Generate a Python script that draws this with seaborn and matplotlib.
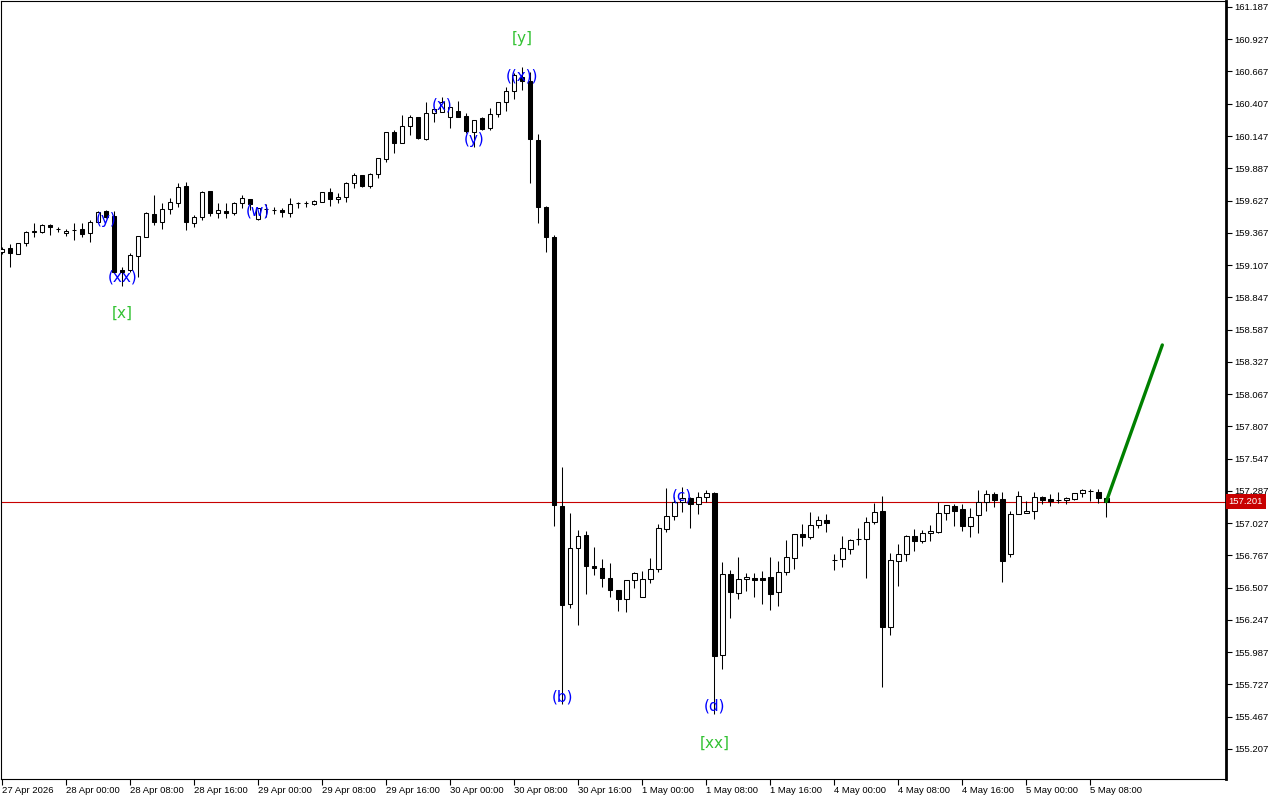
import numpy as np
import pandas as pd
import seaborn as sns
import matplotlib.pyplot as plt

sns.set_theme(style="ticks")
plt.rcParams["font.family"] = ["Liberation Sans", "DejaVu Sans"]

# hourly OHLC, 27 Apr 16:00 .. 5 May 10:00
opens = [
    159.213, 159.242, 159.199, 159.283, 159.374, 159.371, 159.427, 159.398, 159.363, 159.391,
    159.395, 159.366, 159.456, 159.543, 159.502, 159.067, 159.067, 159.183, 159.336, 159.519,
    159.456, 159.556, 159.610, 159.744, 159.448, 159.492, 159.704, 159.524, 159.543, 159.524,
    159.605, 159.640, 159.476, 159.562, 159.550, 159.551, 159.529, 159.604, 159.606, 159.597,
    159.618, 159.693, 159.637, 159.653, 159.766, 159.833, 159.744, 159.839, 159.962, 160.177,
    160.093, 160.228, 160.298, 160.123, 160.330, 160.343, 160.298, 160.351, 160.308, 160.182,
    160.290, 160.209, 160.322, 160.419, 160.512, 160.625, 160.593, 160.118, 159.571, 159.334,
    157.165, 156.379, 156.826, 156.931, 156.681, 156.665, 156.585, 156.488, 156.416, 156.569,
    156.429, 156.577, 156.655, 156.977, 157.084, 157.197, 157.227, 157.179, 157.238, 157.267,
    155.962, 156.615, 156.461, 156.574, 156.582, 156.582, 156.590, 156.474, 156.631, 156.748,
    156.939, 156.918, 157.009, 157.050, 156.728, 156.736, 156.821, 156.896, 156.902, 157.034,
    157.125, 156.192, 156.724, 156.776, 156.923, 156.885, 156.945, 156.958, 157.106, 157.165,
    157.139, 157.006, 157.090, 157.195, 157.260, 157.219, 156.776, 157.098, 157.106, 157.127,
    157.235, 157.219, 157.210, 157.211, 157.224, 157.267, 157.290, 157.276, 157.227,
]
highs = [
    159.253, 159.277, 159.285, 159.382, 159.448, 159.438, 159.438, 159.416, 159.398, 159.443,
    159.443, 159.470, 159.543, 159.551, 159.545, 159.089, 159.202, 159.345, 159.532, 159.672,
    159.605, 159.645, 159.766, 159.774, 159.510, 159.704, 159.706, 159.605, 159.605, 159.618,
    159.672, 159.642, 159.570, 159.599, 159.578, 159.569, 159.645, 159.618, 159.623, 159.631,
    159.698, 159.731, 159.685, 159.779, 159.851, 159.834, 159.851, 159.968, 160.178, 160.196,
    160.316, 160.316, 160.300, 160.419, 160.383, 160.459, 160.383, 160.429, 160.330, 160.277,
    160.298, 160.370, 160.420, 160.545, 160.652, 160.706, 160.665, 160.163, 159.584, 159.348,
    157.476, 157.109, 156.968, 156.964, 156.834, 156.742, 156.706, 156.490, 156.570, 156.633,
    156.641, 156.748, 157.020, 157.308, 157.240, 157.321, 157.235, 157.280, 157.294, 157.280,
    156.711, 156.649, 156.751, 156.622, 156.622, 156.641, 156.751, 156.722, 156.891, 156.938,
    157.020, 157.114, 157.084, 157.101, 156.778, 156.923, 156.897, 156.985, 157.074, 157.192,
    157.246, 156.784, 156.859, 156.931, 156.980, 156.972, 157.012, 157.195, 157.172, 157.181,
    157.181, 157.147, 157.294, 157.294, 157.276, 157.276, 157.127, 157.284, 157.205, 157.276,
    157.246, 157.262, 157.276, 157.235, 157.268, 157.302, 157.302, 157.302, 157.228,
]
lows = [
    159.196, 159.089, 159.194, 159.263, 159.331, 159.366, 159.352, 159.371, 159.339, 159.309,
    159.335, 159.295, 159.450, 159.490, 159.047, 158.938, 159.051, 159.013, 159.330, 159.430,
    159.398, 159.516, 159.578, 159.390, 159.416, 159.470, 159.502, 159.489, 159.489, 159.510,
    159.564, 159.551, 159.470, 159.497, 159.519, 159.497, 159.497, 159.564, 159.572, 159.591,
    159.617, 159.583, 159.605, 159.618, 159.731, 159.738, 159.726, 159.806, 159.940, 160.008,
    160.088, 160.155, 160.126, 160.115, 160.262, 160.341, 160.214, 160.302, 160.174, 160.061,
    160.196, 160.196, 160.298, 160.351, 160.443, 160.518, 159.766, 159.442, 159.212, 157.004,
    155.569, 156.345, 156.206, 156.456, 156.609, 156.512, 156.432, 156.315, 156.311, 156.504,
    156.428, 156.547, 156.636, 156.958, 157.052, 157.114, 156.985, 157.098, 157.195, 155.489,
    155.849, 156.260, 156.413, 156.482, 156.434, 156.375, 156.327, 156.359, 156.609, 156.657,
    156.845, 156.899, 156.990, 156.953, 156.649, 156.676, 156.778, 156.851, 156.587, 157.018,
    155.709, 156.125, 156.520, 156.724, 156.805, 156.869, 156.885, 156.950, 157.052, 157.006,
    156.966, 156.918, 156.945, 157.127, 157.155, 156.555, 156.757, 157.097, 157.105, 157.060,
    157.179, 157.168, 157.187, 157.181, 157.213, 157.240, 157.208, 157.192, 157.079,
]
closes = [
    159.237, 159.202, 159.285, 159.371, 159.378, 159.427, 159.411, 159.396, 159.382, 159.393,
    159.360, 159.454, 159.532, 159.497, 159.053, 159.053, 159.186, 159.339, 159.524, 159.456,
    159.556, 159.618, 159.739, 159.452, 159.497, 159.698, 159.524, 159.551, 159.527, 159.605,
    159.645, 159.597, 159.564, 159.560, 159.552, 159.537, 159.597, 159.606, 159.604, 159.623,
    159.693, 159.637, 159.658, 159.766, 159.833, 159.744, 159.839, 159.967, 160.177, 160.088,
    160.228, 160.298, 160.129, 160.330, 160.362, 160.424, 160.378, 160.303, 160.188, 160.276,
    160.201, 160.322, 160.419, 160.512, 160.639, 160.593, 160.121, 159.577, 159.334, 157.172,
    156.371, 156.825, 156.923, 156.681, 156.665, 156.585, 156.488, 156.416, 156.569, 156.625,
    156.577, 156.657, 156.985, 157.084, 157.200, 157.227, 157.179, 157.235, 157.267, 155.958,
    156.615, 156.470, 156.577, 156.590, 156.571, 156.571, 156.453, 156.631, 156.751, 156.937,
    156.918, 157.009, 157.050, 157.030, 156.726, 156.824, 156.889, 156.898, 157.034, 157.114,
    156.192, 156.727, 156.778, 156.923, 156.885, 156.945, 156.964, 157.106, 157.171, 157.127,
    157.006, 157.079, 157.195, 157.260, 157.213, 156.724, 157.098, 157.243, 157.122, 157.235,
    157.213, 157.208, 157.212, 157.227, 157.267, 157.292, 157.288, 157.227, 157.201,
]

time_labels = [
    "27 Apr 2026", "28 Apr 00:00", "28 Apr 08:00", "28 Apr 16:00", "29 Apr 00:00",
    "29 Apr 08:00", "29 Apr 16:00", "30 Apr 00:00", "30 Apr 08:00", "30 Apr 16:00",
    "1 May 00:00", "1 May 08:00", "1 May 16:00", "4 May 00:00", "4 May 08:00",
    "4 May 16:00", "5 May 00:00", "5 May 08:00",
]
label_step = 8

price_ticks = [155.207 + 0.26 * k for k in range(24)]
last_price = 157.201

# projection from the last close
proj_bars = [138, 145]
proj_prices = [157.201, 158.463]

# wave labels
wave_text = ["[y]", "[x]", "[xx]", "(y)", "(xx)", "(w)", "(x)", "(y)", "((x))",
             "(b)", "(c)", "(d)"]
wave_bar = [65, 15, 89, 13, 15, 32, 55, 59, 65, 70, 85, 89]
wave_price = [160.929, 158.721, 155.255, 159.478, 159.010, 159.543, 160.397, 160.120,
              160.631, 155.626, 157.246, 155.553]
wave_color = ["#33c233", "#33c233", "#33c233"] + ["#0000ff"] * 9

df = pd.DataFrame({"open": opens, "high": highs, "low": lows, "close": closes})
df["bar"] = np.arange(len(df))
df["up"] = df["close"] >= df["open"]

fig = plt.figure(figsize=(12.8, 8), dpi=100)
ax = fig.add_axes([1 / 1280, 21 / 800, 1225 / 1280, 778 / 800])

# wicks
ax.vlines(df["bar"], df["low"], df["high"], color="black", lw=0.75, zorder=2)

# bodies
body = (df["close"] - df["open"]).abs().clip(lower=0.002)
bottom = df[["open", "close"]].min(axis=1)
ax.bar(df["bar"], body, bottom=bottom, width=0.55,
       color=np.where(df["up"], "white", "black"), edgecolor="black", lw=0.75, zorder=3)

ax.axhline(last_price, color="#c80000", lw=0.8, zorder=1)

sns.lineplot(x=proj_bars, y=proj_prices, color="#008000", lw=2.4, ax=ax, zorder=4)

for t, b, p, c in zip(wave_text, wave_bar, wave_price, wave_color):
    ax.text(b, p, t, color=c, fontsize=11, family="DejaVu Sans",
            ha="center", va="center", zorder=5)

ax.set_xlim(-0.16, 152.96)
ax.set_ylim(154.965, 161.235)

ax.yaxis.tick_right()
ax.set_yticks(price_ticks)
ax.set_yticklabels([f"{v:.3f}" for v in price_ticks])
ax.tick_params(axis="y", direction="out", length=4, width=0.8, pad=2,
               labelsize=6.8, colors="black")

ax.set_xticks([i * label_step for i in range(len(time_labels))])
ax.set_xticklabels(time_labels, ha="left")
ax.tick_params(axis="x", direction="out", length=4, width=0.8, pad=1,
               labelsize=6.8, colors="black")

ax.text(1.002, last_price, f"{last_price:.3f}", transform=ax.get_yaxis_transform(),
        color="white", fontsize=6.8, ha="left", va="center",
        bbox=dict(boxstyle="square,pad=0.3", fc="#c80000", ec="none"))

for side in ["left", "top", "bottom"]:
    ax.spines[side].set_linewidth(0.8)
    ax.spines[side].set_color("black")
ax.spines["right"].set_linewidth(2)
ax.spines["right"].set_color("black")
ax.grid(False)

fig.savefig("out.png", dpi=100, facecolor="white")
